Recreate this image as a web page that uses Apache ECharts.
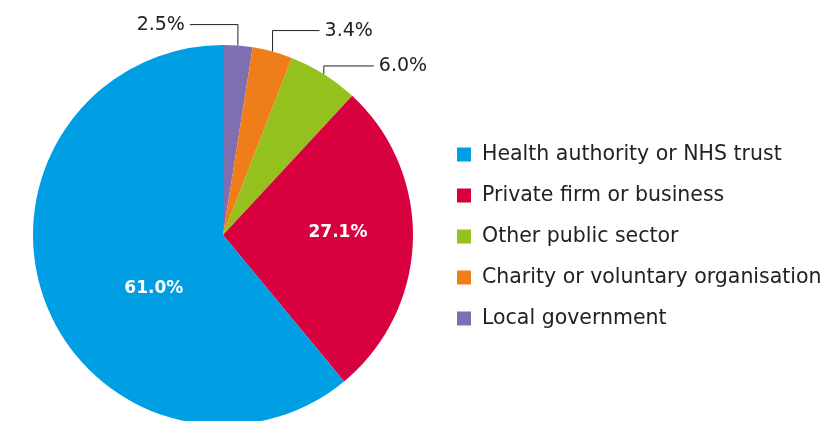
<!doctype html>
<html>
<head>
	<meta charset="utf-8">
	<title>Employer sectors</title>
	<script src="https://cdn.jsdelivr.net/npm/echarts@6/dist/echarts.min.js"></script>
	<style>
		html, body { margin: 0; padding: 0; background: #fff; }
		#main { width: 840px; height: 421px; }
	</style>
</head>
<body>
	<div id="main"></div>
	<script>
		// clockwise from 12 o'clock
		var sectors = ['Local government', 'Charity or voluntary organisation', 'Other public sector', 'Private firm or business', 'Health authority or NHS trust'];
		var shares = [2.5, 3.4, 6.0, 27.1, 61.0];
		var colours = ['#7f6fb0', '#ef7d1a', '#95c11f', '#d9003f', '#009fe3'];
		// legend reads top to bottom
		var legendOrder = ['Health authority or NHS trust', 'Private firm or business', 'Other public sector', 'Charity or voluntary organisation', 'Local government'];

		var chart = echarts.init(document.getElementById('main'));

		var data = sectors.map(function (name, i) {
			var inside = shares[i] > 10;
			return {
				name: name,
				value: shares[i],
				itemStyle: { color: colours[i] },
				label: inside
					? { position: 'inside', color: '#fff', fontWeight: 'bold', fontSize: 17 }
					: { position: 'outside', color: '#222', fontSize: 19 },
				labelLine: { show: !inside }
			};
		});

		// leader lines: go straight up, then sideways to the label
		var rise = [21, 21, 8];
		var run = [-48, 47, 50];
		// nudges for the two labels drawn inside the pie
		var nudge = { 3: [17, -5], 4: [23, 20] };

		chart.setOption({
			animation: false,
			legend: {
				orient: 'vertical',
				left: 452,
				top: 139,
				icon: 'rect',
				itemWidth: 14,
				itemHeight: 14,
				itemGap: 20,
				data: legendOrder,
				textStyle: {
					fontFamily: 'DejaVu Sans',
					fontSize: 20.5,
					lineHeight: 20,
					color: '#222',
					padding: [0, 0, 0, 6]
				}
			},
			series: [{
				type: 'pie',
				center: [223, 235],
				radius: 190,
				startAngle: 90,
				clockwise: true,
				avoidLabelOverlap: false,
				label: {
					formatter: function (p) { return p.value.toFixed(1) + '%'; },
					fontFamily: 'DejaVu Sans'
				},
				labelLine: { lineStyle: { color: '#222', width: 1 } },
				labelLayout: function (p) {
					var i = p.dataIndex;
					if (nudge[i]) {
						return { dx: nudge[i][0], dy: nudge[i][1] };
					}
					if (!p.labelLinePoints) return {};
					var s = p.labelLinePoints[0];
					var y = s[1] - rise[i];
					var x = s[0] + run[i];
					return {
						x: x + (run[i] < 0 ? -5 : 5),
						y: y,
						align: run[i] < 0 ? 'right' : 'left',
						verticalAlign: 'middle',
						labelLinePoints: [[s[0], s[1]], [s[0], y], [x, y]]
					};
				},
				data: data
			}]
		});
	</script>
</body>
</html>
